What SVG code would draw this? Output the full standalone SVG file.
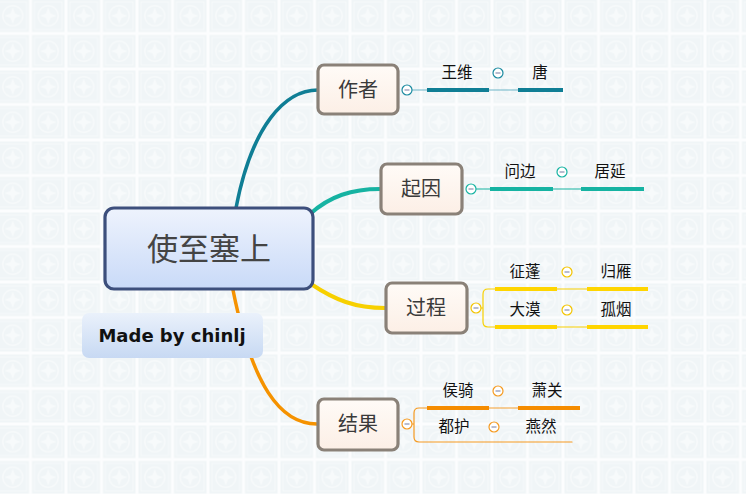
<svg xmlns="http://www.w3.org/2000/svg" width="746" height="494" viewBox="0 0 746 494">
<style>
.bt{fill:url(#nodeG);stroke:#8a8178;stroke-width:3.2}
.bt-t{font-family:"Noto Sans CJK SC","Noto Sans",sans-serif;font-size:20px;fill:#3a3a3a;text-anchor:middle}
.lf{font-family:"Noto Sans CJK SC","Noto Sans",sans-serif;font-size:15.5px;fill:#111;text-anchor:middle}
.col{fill:#fff;stroke-width:1.2}
.dash{stroke:#8a8fb0;stroke-width:1.2}
.conn{fill:none;stroke-linecap:round}
</style>
<defs>
<linearGradient id="centG" x1="0" y1="0" x2="0" y2="1"><stop offset="0" stop-color="#eef3fd"/><stop offset="1" stop-color="#c9daf8"/></linearGradient>
<linearGradient id="nodeG" x1="0" y1="0" x2="0" y2="1"><stop offset="0" stop-color="#fffbf7"/><stop offset="1" stop-color="#fcefe6"/></linearGradient>
<linearGradient id="labG" x1="0" y1="0" x2="0" y2="1"><stop offset="0" stop-color="#eaf1fb"/><stop offset="1" stop-color="#c7d9f3"/></linearGradient>
<pattern id="tile" x="-5" y="-2" width="35.5" height="35.5" patternUnits="userSpaceOnUse">
<rect width="35.5" height="35.5" fill="#fcfdfe"/>
<rect x="1.5" y="1.5" width="32.5" height="32.5" fill="#f0f5f7"/>
<rect x="4" y="4" width="27.5" height="27.5" fill="none" stroke="#f7fafb" stroke-width="1"/>
<circle cx="17.75" cy="17.75" r="10" fill="none" stroke="#f7fafb" stroke-width="1.5"/>
<path d="M17.75 9 L20 15.5 L26.5 17.75 L20 20 L17.75 26.5 L15.5 20 L9 17.75 L15.5 15.5 Z" fill="#f7fafb"/>
</pattern>
</defs>
<rect width="746" height="494" fill="url(#tile)"/>

<g id="connectors">
<path class="conn" d="M236 208 C 252 125 285 90 318 90" stroke="#0f7e95" stroke-width="3.5"/>
<path class="conn" d="M310 214 C 330 196 352 189 380 189" stroke="#16b3a2" stroke-width="4"/>
<path class="conn" d="M311 284 C 335 300 355 308 385 308" stroke="#f7d000" stroke-width="4"/>
<path class="conn" d="M233 290 C 252 385 280 424 317 424" stroke="#f59200" stroke-width="3.5"/>

<line x1="412" y1="90" x2="563" y2="90" stroke="#6db5c8" stroke-width="1.2"/>
<line x1="427" y1="90" x2="489" y2="90" stroke="#0f7e95" stroke-width="4"/>
<line x1="518" y1="90" x2="563" y2="90" stroke="#0f7e95" stroke-width="4"/>

<line x1="476" y1="189" x2="644" y2="189" stroke="#16b3a2" stroke-width="1.2"/>
<line x1="490" y1="189" x2="553" y2="189" stroke="#16b3a2" stroke-width="4"/>
<line x1="581" y1="189" x2="644" y2="189" stroke="#16b3a2" stroke-width="4"/>

<path class="conn" d="M481 308 L483 308 M495 289 L488 289 Q483 289 483 294 L483 322 Q483 327 488 327 L495 327" stroke="#f7d000" stroke-width="1.2"/>
<line x1="495" y1="289" x2="648" y2="289" stroke="#f7d000" stroke-width="1.2"/>
<line x1="495" y1="327" x2="648" y2="327" stroke="#f7d000" stroke-width="1.2"/>
<line x1="495" y1="289" x2="557" y2="289" stroke="#ffd500" stroke-width="4"/>
<line x1="587" y1="289" x2="648" y2="289" stroke="#ffd500" stroke-width="4"/>
<line x1="495" y1="327" x2="557" y2="327" stroke="#ffd500" stroke-width="4"/>
<line x1="587" y1="327" x2="648" y2="327" stroke="#ffd500" stroke-width="4"/>

<path class="conn" d="M412 424 L414 424 M427 408 L419 408 Q414 408 414 413 L414 437 Q414 442 419 442 L572 442" stroke="#f59a20" stroke-width="1.2"/>
<line x1="427" y1="408" x2="580" y2="408" stroke="#f5a030" stroke-width="1.2"/>
<line x1="427" y1="408" x2="489" y2="408" stroke="#f58c00" stroke-width="4"/>
<line x1="518" y1="408" x2="580" y2="408" stroke="#f58c00" stroke-width="4"/>
</g>

<g id="central">
<rect x="105" y="208" width="208" height="81" rx="9" fill="url(#centG)" stroke="#3d4f7c" stroke-width="3.2"/>
<text x="209" y="260" font-family="Noto Sans CJK SC,sans-serif" font-size="31" fill="#444" text-anchor="middle">使至塞上</text>
</g>

<g id="label">
<rect x="82" y="313" width="181" height="45" rx="7" fill="url(#labG)"/>
<text x="172" y="342" font-family="DejaVu Sans,sans-serif" font-weight="bold" font-size="18" fill="#111" text-anchor="middle">Made by chinlj</text>
</g>

<g id="n-zuozhe">
<rect class="bt" x="318" y="65" width="80" height="49" rx="6"/>
<text class="bt-t" x="358" y="97">作者</text>
<circle class="col" cx="407" cy="90" r="5" stroke="#1a8aa0"/><line class="dash" x1="404.5" y1="90" x2="409.5" y2="90"/>
</g>
<g id="n-wangwei"><text class="lf" x="457" y="78">王维</text>
<circle class="col" cx="498" cy="73" r="5" stroke="#1a8aa0"/><line class="dash" x1="495.5" y1="73" x2="500.5" y2="73"/></g>
<g id="n-tang"><text class="lf" x="540" y="78">唐</text></g>

<g id="n-qiyin">
<rect class="bt" x="381" y="164" width="81" height="50" rx="6"/>
<text class="bt-t" x="421" y="196">起因</text>
<circle class="col" cx="471" cy="189" r="5" stroke="#16b3a2"/><line class="dash" x1="468.5" y1="189" x2="473.5" y2="189"/>
</g>
<g id="n-wenbian"><text class="lf" x="520" y="177">问边</text>
<circle class="col" cx="562" cy="172" r="5" stroke="#16b3a2"/><line class="dash" x1="559.5" y1="172" x2="564.5" y2="172"/></g>
<g id="n-juyan"><text class="lf" x="610" y="177">居延</text></g>

<g id="n-guocheng">
<rect class="bt" x="386" y="283" width="81" height="50" rx="6"/>
<text class="bt-t" x="426" y="315">过程</text>
<circle class="col" cx="476" cy="308" r="5" stroke="#f3c400"/><line class="dash" x1="473.5" y1="308" x2="478.5" y2="308"/>
</g>
<g id="n-zhengpeng"><text class="lf" x="525" y="277">征蓬</text>
<circle class="col" cx="567" cy="272" r="5" stroke="#f3c400"/><line class="dash" x1="564.5" y1="272" x2="569.5" y2="272"/></g>
<g id="n-guiyan"><text class="lf" x="616" y="277">归雁</text></g>
<g id="n-damo"><text class="lf" x="525" y="315">大漠</text>
<circle class="col" cx="567" cy="310" r="5" stroke="#f3c400"/><line class="dash" x1="564.5" y1="310" x2="569.5" y2="310"/></g>
<g id="n-guyan"><text class="lf" x="616" y="315">孤烟</text></g>

<g id="n-jieguo">
<rect class="bt" x="318" y="399" width="80" height="51" rx="6"/>
<text class="bt-t" x="358" y="431">结果</text>
<circle class="col" cx="407" cy="424" r="5" stroke="#f59a20"/><line class="dash" x1="404.5" y1="424" x2="409.5" y2="424"/>
</g>
<g id="n-houqi"><text class="lf" x="458" y="396">侯骑</text>
<circle class="col" cx="498" cy="391" r="5" stroke="#f59a20"/><line class="dash" x1="495.5" y1="391" x2="500.5" y2="391"/></g>
<g id="n-xiaoguan"><text class="lf" x="547" y="396">萧关</text></g>
<g id="n-duhu"><text class="lf" x="454" y="432">都护</text>
<circle class="col" cx="494" cy="427" r="5" stroke="#f59a20"/><line class="dash" x1="491.5" y1="427" x2="496.5" y2="427"/></g>
<g id="n-yanran"><text class="lf" x="541" y="432">燕然</text></g>
</svg>
